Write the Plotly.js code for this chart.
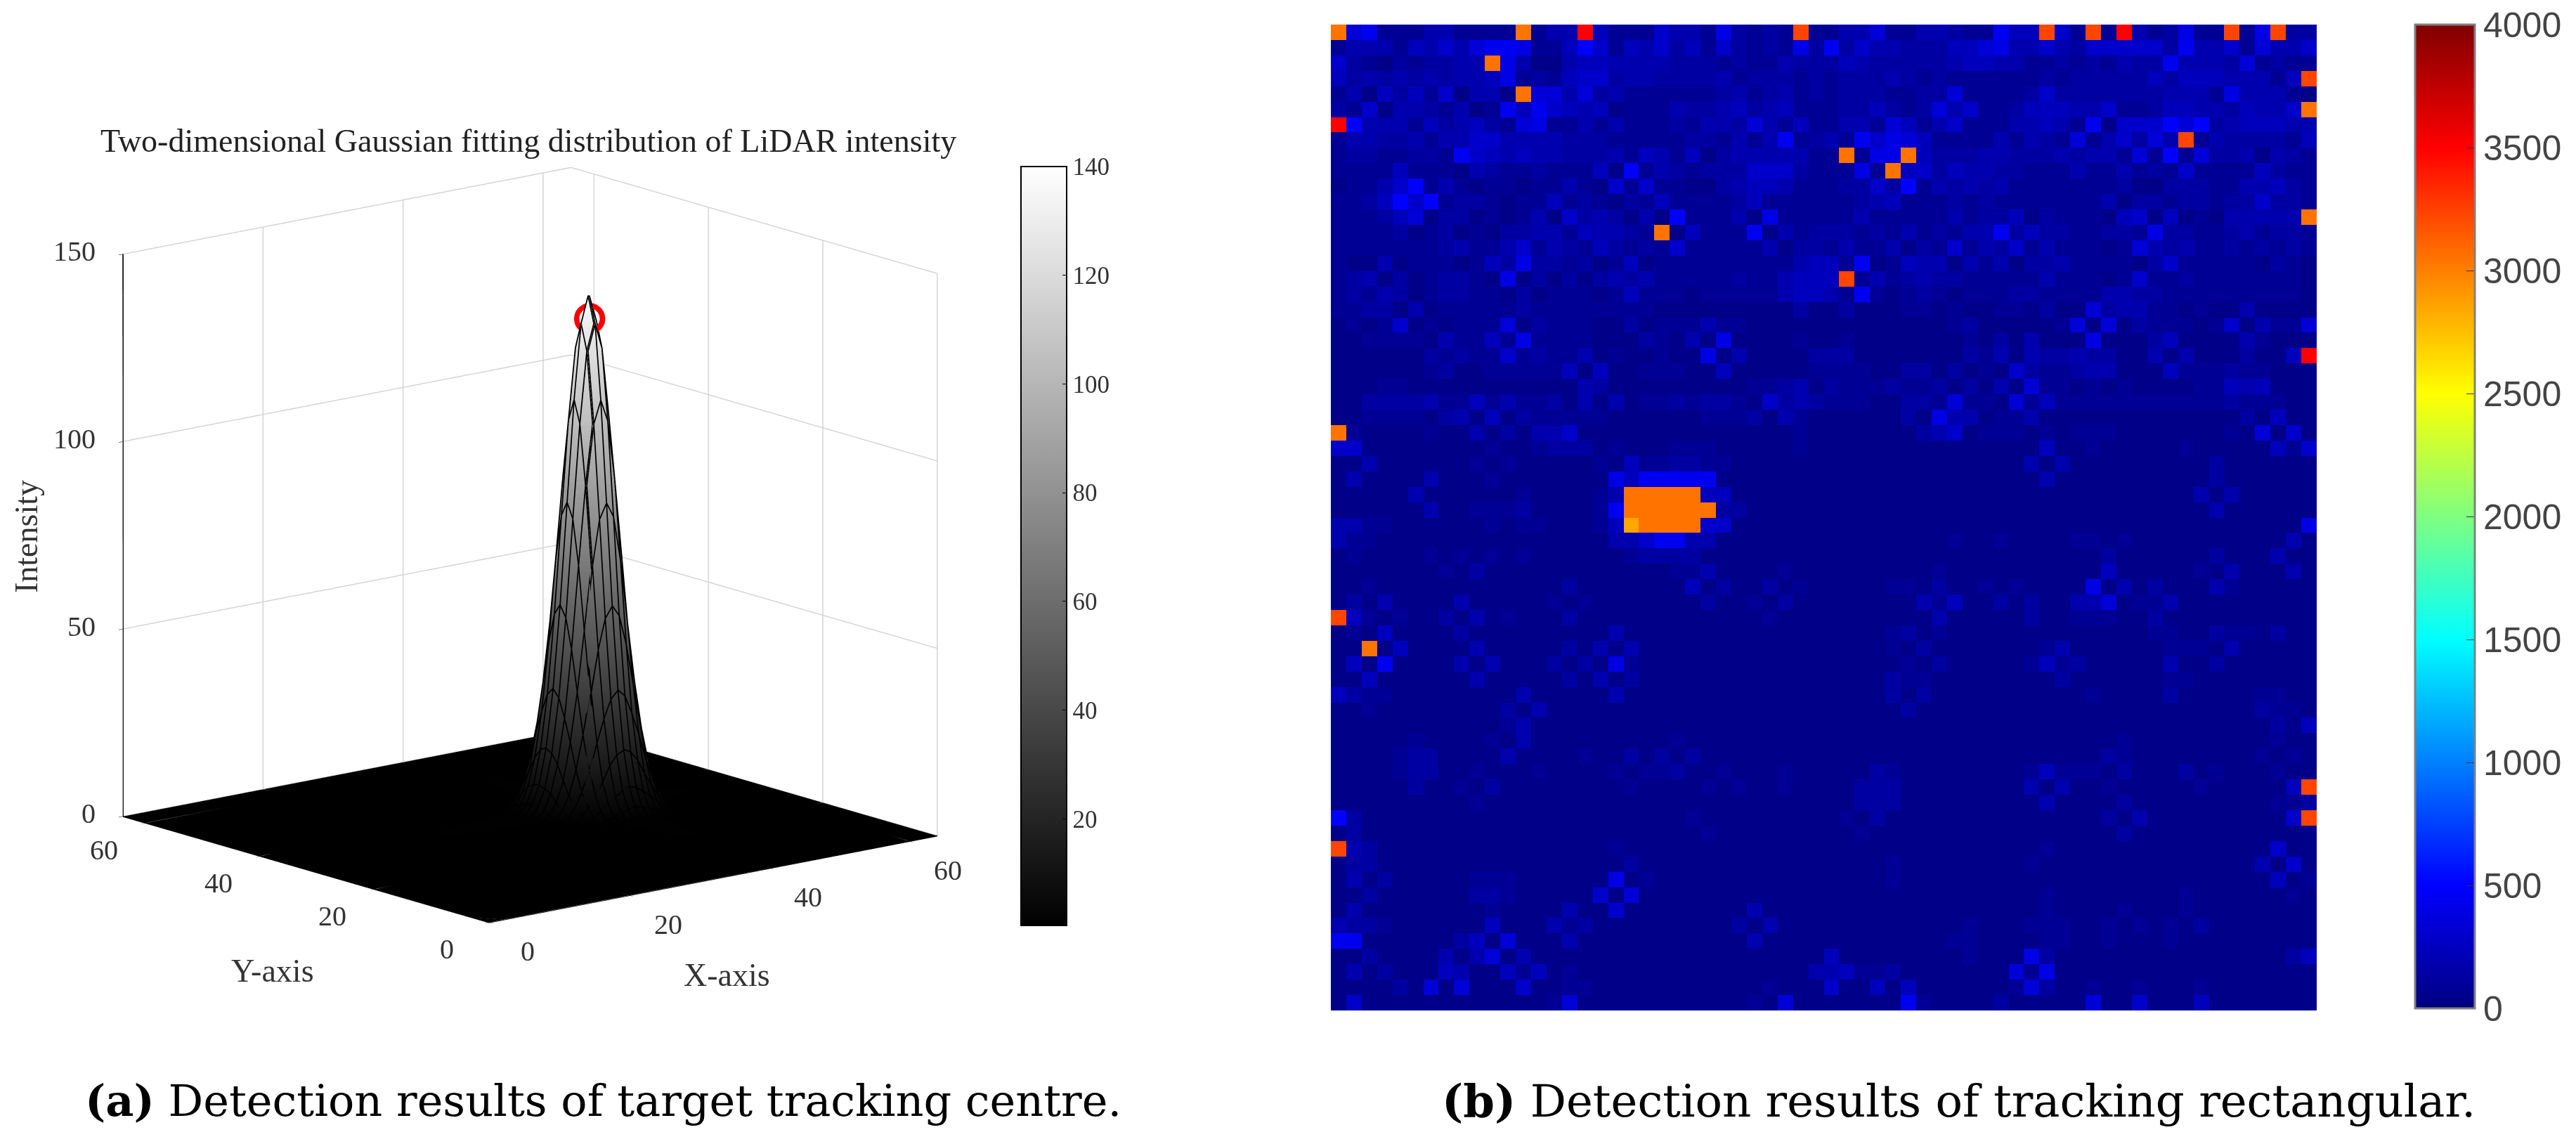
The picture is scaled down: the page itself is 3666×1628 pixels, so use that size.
<!DOCTYPE html>
<html>
<head>
<meta charset="utf-8">
<script src="https://cdn.plot.ly/plotly-3.0.1.min.js"></script>
<style>
  html, body { margin: 0; padding: 0; background: #fff; }
</style>
</head>
<body>
<div id="chart" style="width:3666px;height:1628px"></div>
<script>
// (a) peak of the fitted surface, one quadrant read from the silhouette, rows dy=0..9, cols dx=0..9
var peakQuadrant = [
  [137, 130, 110, 83, 56, 34, 18.5, 9, 4, 1.5],
  [130, 123, 104, 79, 53, 32, 17.5, 8.5, 3.7, 1.5],
  [110, 104, 88, 67, 45, 27, 15, 7.5, 3, 1.2],
  [83, 79, 67, 50, 34, 21, 11, 5.5, 2.4, 0.9],
  [56, 53, 45, 34, 23, 14, 7.5, 3.7, 1.6, 0.6],
  [34, 32, 27, 21, 14, 8.5, 4.5, 2.2, 1, 0.6],
  [18.5, 17.5, 15, 11, 7.5, 4.5, 2.5, 1.2, 0.6, 0.6],
  [9, 8.5, 7, 5.5, 3.7, 2.2, 1.2, 0.6, 0.6, 0.6],
  [4, 3.7, 3, 2.4, 1.6, 1, 0.6, 0.6, 0.6, 0.6],
  [1.5, 1.5, 1.2, 0.9, 0.6, 0.6, 0.6, 0.6, 0.6, 0.6]
];
var surfaceX = [0, 33, 34, 35, 36, 37, 38, 39, 40, 41, 42, 43, 44, 45, 46, 47, 48, 49, 50, 51, 64];
var surfaceY = [0, 25, 26, 27, 28, 29, 30, 31, 32, 33, 34, 35, 36, 37, 38, 39, 40, 41, 42, 43, 64];
var peakMark = { x: 42, y: 34, z: 131 };
var axisTicks = [0, 20, 40, 60];
var zTicks = [0, 50, 100, 150];
var grayTicks = [20, 40, 60, 80, 100, 120, 140];
var jetTicks = [0, 500, 1000, 1500, 2000, 2500, 3000, 3500, 4000];

// (b) intensity image, 64 x 64. 0-9 = background blue levels, y/o/r/R = hot cells
var cellRows = [
  "o6811133 1111o133 R4111533 172121r1 13361133 211844r5 1r1R3127 11r17r22",
  "13331435 36887114 95143524 15212172 82533222 44673353 25555528 33516335",
  "52102122 33o73003 44333322 21211322 24322222 34433112 12132283 33261211",
  "42323232 33471214 55233222 23122212 12223212 11111121 22222424 4433314r",
  "13042415 0330o663 62311111 12312312 12221122 61111252 22222233 31733310",
  "21503321 30184854 34011132 23423411 12242126 35112444 33511244 3324335o",
  "R9333142 34216711 31311121 33263141 13316413 51113343 18055596 92344433",
  "13322313 35533332 22111112 21313812 31857641 11131321 6135263r 13222214",
  "12211221 85434332 22314314 02333331 1o177o42 22332223 23316191 62230321",
  "11114111 03211211 14091321 22255521 1171o452 43322111 31131215 11114211",
  "01135913 10110113 10515110 02344311 12252913 23231111 11120022 21133421",
  "11249591 22101141 21021411 11241111 11234111 21211111 11302212 21225221",
  "11124602 20101305 23203091 11307111 11311111 31224021 11045040 1033333o",
  "11112012 01022331 43321o04 11180312 22121312 13382422 11221722 11231221",
  "11111112 31135132 14212151 11113022 13113021 51325131 11016323 11212121",
  "10030111 01427221 20140111 11111134 41801433 03130223 11110251 11110210",
  "12302012 21070202 02323111 11211344 4r131232 21111131 11015112 11111110",
  "12132012 21102011 10141110 11111344 31810121 01112211 11332211 11111110",
  "11220301 11112111 11111000 00000020 02000110 10011020 06233110 10030000",
  "01015010 11160211 10020111 31100000 00000000 12000001 60602111 01503116",
  "00111103 11417111 10002103 07000010 01000000 01020300 07000240 00031000",
  "00000021 21151211 30100100 70300002 22000000 02130322 32200303 0002004R",
  "00000012 00111114 04001110 04000001 11100220 20105211 23300041 11211000",
  "00011000 00000000 32000000 00011230 21112112 02030611 01010000 11434000",
  "00222231 14131120 30301121 22105232 11100221 61106141 11111111 11211100",
  "00111102 30402111 11000000 11120310 00000207 33011300 00000000 00020400",
  "o1000010 03020335 00000000 00000010 00000023 50111010 11100000 00106050",
  "55000000 00100122 20100011 10000010 00000000 00000040 01000001 00000415",
  "00300000 01010000 01041122 11000000 00000000 00000303 00000000 02000000",
  "03000030 00100000 00748888 80000000 00000000 00000030 00000000 02000000",
  "00000300 00001000 013ooooo 44000000 00000000 00000000 00000000 30300000",
  "00000030 01112000 018ooooo o2200000 00000000 00000000 00000000 03000000",
  "33110000 00101100 014yoooo 55000000 00000000 00000000 00000000 00000007",
  "31100000 00000000 00335883 30000000 00000000 10010000 11010000 00000030",
  "01000010 10101000 00012222 00000000 00000000 00000000 00200000 02000300",
  "00000001 02000000 00000011 30000100 00000001 00000000 00400000 10300030",
  "00100000 00000002 00000004 02002010 00001102 00101000 07030200 03100000",
  "02030000 30000010 10000000 20010200 00000031 40020200 33601130 00000000",
  "r4101002 03010002 00000000 00001000 00000003 00000200 11100200 00000000",
  "01040000 20000000 00300000 00000000 00001201 00000000 00000110 02110200",
  "00o04000 03000002 03030000 00000000 00001020 00000013 00000011 10300000",
  "04080000 30300020 20710000 00000000 00000102 00000141 20000030 02000000",
  "00400000 03000002 03020000 00000000 00002110 00000002 00000011 00000000",
  "42110000 00003000 00300000 00000000 00002020 00000000 01000020 00001100",
  "00100000 00020300 00000000 00000000 00000200 00000000 00000000 00002110",
  "00000000 00013000 00000000 00000000 00000000 00000000 00000000 00000204",
  "00000100 00103000 00000010 00000000 00000000 00000000 00010000 00000100",
  "00001220 00030000 10020202 00000000 00000000 00000000 00210000 00001010",
  "00001220 01000100 00101120 01000100 00021000 00000141 11020002 01000100",
  "00000200 10200000 00010000 10100100 00222000 00000303 00100000 1000004r",
  "00000000 01000000 00000000 00000000 00222000 00000030 00020000 00000112",
  "92000000 00000000 00000001 00000000 01020000 00000000 00203000 0000005r",
  "02000000 00000000 00000000 10000000 00100000 00000000 00020000 00000000",
  "r3200000 00000000 00100000 00000000 00000000 00000010 00000000 00000500",
  "02200000 00000000 00020000 00000000 00001000 00000100 00000000 00003050",
  "03020000 01110000 00701000 00000000 00001000 00000000 00000000 00000401",
  "00200000 02210000 05060000 00000000 00000000 00000010 00000001 00000010",
  "03000000 00100003 00500000 00030000 00000000 00000010 00010001 00000000",
  "32210000 00400031 20000000 00203000 00000000 01000111 00101010 20000000",
  "88000000 24060003 00000000 00030000 00000000 11000011 00100010 00000000",
  "00200003 03603000 00000000 00000000 40000000 01000720 00000000 00000024",
  "03020004 30041401 00000000 00000003 34112000 00006170 00000000 00000000",
  "00002060 60005001 10000000 00001000 50040400 00001620 01001000 10000000",
  "05000000 00000016 00000000 00010600 00000810 00020000 06005000 40000000"
];
var hotValues = { y: 2850, o: 3050, r: 3230, R: 3500 };

var W = 3666, H = 1628;

// build the two z tables
function mirror(list) {
  var out = [];
  for (var i = list.length - 1; i > 0; i--) out.push(list[i]);
  return out.concat(list);
}
var surfaceZ = [];
var flatRow = [];
for (var i = 0; i < surfaceX.length; i++) flatRow.push(0);
surfaceZ.push(flatRow);
mirror(peakQuadrant).forEach(function (row) {
  surfaceZ.push([0].concat(mirror(row)).concat([0]));
});
surfaceZ.push(flatRow);

var imageZ = cellRows.map(function (row) {
  return row.replace(/ /g, "").split("").map(function (c) {
    if (hotValues[c] !== undefined) return hotValues[c];
    return 30 + 52 * Number(c);
  });
});

// black mesh over the peak, one polyline per grid row and column
var meshX = [], meshY = [], meshZ = [];
for (var r = 1; r < surfaceY.length - 1; r++) {
  for (var c = 1; c < surfaceX.length - 1; c++) {
    meshX.push(surfaceX[c]); meshY.push(surfaceY[r]); meshZ.push(surfaceZ[r][c]);
  }
  meshX.push(null); meshY.push(null); meshZ.push(null);
}
for (var c2 = 1; c2 < surfaceX.length - 1; c2++) {
  for (var r2 = 1; r2 < surfaceY.length - 1; r2++) {
    meshX.push(surfaceX[c2]); meshY.push(surfaceY[r2]); meshZ.push(surfaceZ[r2][c2]);
  }
  meshX.push(null); meshY.push(null); meshZ.push(null);
}

var data = [
  {
    type: "surface",
    x: surfaceX,
    y: surfaceY,
    z: surfaceZ,
    cmin: 0.4,
    cmax: 140,
    colorscale: [[0, "#000000"], [1, "#ffffff"]],
    lighting: { ambient: 1, diffuse: 0, specular: 0, roughness: 1, fresnel: 0 },
    colorbar: {
      x: 1453 / W, xanchor: "left", xpad: 0,
      y: 1 - 1317 / H, yanchor: "bottom", ypad: 0,
      len: 1080 / H, lenmode: "fraction",
      thickness: 65,
      outlinecolor: "#000", outlinewidth: 2,
      tickvals: grayTicks,
      ticks: "inside", ticklen: 7, tickcolor: "#000",
      tickfont: { family: "Liberation Serif", size: 35, color: "#333" }
    }
  },
  {
    type: "scatter3d",
    mode: "lines",
    x: meshX,
    y: meshY,
    z: meshZ,
    connectgaps: false,
    line: { color: "#000", width: 7 },
    showlegend: false
  },
  {
    type: "heatmap",
    z: imageZ,
    xaxis: "x",
    yaxis: "y",
    zmin: 0,
    zmax: 4000,
    colorscale: [
      [0, "#000080"], [0.125, "#0000ff"], [0.375, "#00ffff"],
      [0.625, "#ffff00"], [0.875, "#ff0000"], [1, "#800000"]
    ],
    colorbar: {
      x: 3437 / W, xanchor: "left", xpad: 0,
      y: 1 - 1435 / H, yanchor: "bottom", ypad: 0,
      len: 1400 / H, lenmode: "fraction",
      thickness: 85,
      outlinecolor: "#808080", outlinewidth: 3,
      tickvals: jetTicks,
      ticks: "inside", ticklen: 13, tickcolor: "#333",
      tickfont: { family: "Liberation Sans", size: 50, color: "#444" }
    }
  }
];

// nested rings, a single open marker draws too thin
[21, 23, 25].forEach(function (ringSize) {
  data.push({
    type: "scatter3d",
    mode: "markers",
    x: [peakMark.x],
    y: [peakMark.y],
    z: [peakMark.z],
    marker: { symbol: "circle-open", size: ringSize, color: "#ff0000", line: { color: "#ff0000", width: 9 } },
    showlegend: false
  });
});

var axisStyle = {
  range: [0, 64],
  tickvals: axisTicks,
  showticklabels: false,
  showgrid: true,
  gridcolor: "#d4d4d4",
  gridwidth: 3,
  zeroline: false,
  showline: true,
  linecolor: "#000",
  linewidth: 4,
  ticks: "outside",
  tickcolor: "#000",
  ticklen: 8,
  showbackground: false,
  showspikes: false
};

var tickFont = { family: "Liberation Serif", size: 40, color: "#333" };
var labelFont = { family: "Liberation Serif", size: 46, color: "#333" };

// upright tick labels, pinned to the axes in data coordinates
var sceneLabels = [];
axisTicks.forEach(function (v) {
  sceneLabels.push({ x: v, y: 0, z: 0, text: String(v), showarrow: false, xshift: 55, yshift: -41, font: tickFont });
  sceneLabels.push({ x: 0, y: v, z: 0, text: String(v), showarrow: false, xshift: -60, yshift: -38, font: tickFont });
});
zTicks.forEach(function (v) {
  sceneLabels.push({ x: 0, y: 64, z: v, text: String(v), showarrow: false, xanchor: "right", xshift: -37, yshift: 4, font: tickFont });
});

var layout = {
  width: W,
  height: H,
  autosize: false,
  margin: { l: 0, r: 0, t: 0, b: 0 },
  paper_bgcolor: "#fff",
  plot_bgcolor: "#fff",
  showlegend: false,
  xaxis: { domain: [1894 / W, 3297 / W], visible: false, range: [-0.5, 63.5], constrain: "domain" },
  yaxis: { domain: [1 - 1438 / H, 1 - 35 / H], visible: false, range: [63.5, -0.5] },
  scene: {
    domain: { x: [104 / W, 1405 / W], y: [1 - 1426 / H, 1 - 125 / H] },
    aspectmode: "manual",
    aspectratio: { x: 1.266, y: 1.266, z: 1.266 },
    bgcolor: "#fff",
    camera: {
      projection: { type: "orthographic" },
      center: { x: 0, y: 0, z: 0 },
      up: { x: 0, y: 0, z: 1 },
      eye: { x: -0.9696, y: -1.1864, z: 0.3731 }
    },
    xaxis: Object.assign({}, axisStyle, { title: { text: "" } }),
    yaxis: Object.assign({}, axisStyle, { title: { text: "" } }),
    zaxis: Object.assign({}, axisStyle, { range: [0, 150], tickvals: zTicks, title: { text: "" } }),
    annotations: sceneLabels
  },
  annotations: [
    {
      xref: "paper", yref: "paper", x: 752 / W, y: 1 - 201 / H, xanchor: "center", yanchor: "middle",
      showarrow: false, text: "Two-dimensional Gaussian fitting distribution of LiDAR intensity",
      font: { family: "Liberation Serif", size: 46, color: "#222" }
    },
    {
      xref: "paper", yref: "paper", x: 1034 / W, y: 1 - 1387 / H, xanchor: "center", yanchor: "middle",
      showarrow: false, text: "X-axis", font: labelFont
    },
    {
      xref: "paper", yref: "paper", x: 388 / W, y: 1 - 1381 / H, xanchor: "center", yanchor: "middle",
      showarrow: false, text: "Y-axis", font: labelFont
    },
    {
      xref: "paper", yref: "paper", x: 37 / W, y: 1 - 764 / H, xanchor: "center", yanchor: "middle",
      showarrow: false, text: "Intensity", textangle: -90, font: labelFont
    },
    {
      xref: "paper", yref: "paper", x: 119 / W, y: 1 - 1566 / H, xanchor: "left", yanchor: "middle",
      showarrow: false, text: "<b>(a)</b> Detection results of target tracking centre.",
      font: { family: "DejaVu Serif", size: 62, color: "#000" }
    },
    {
      xref: "paper", yref: "paper", x: 2050 / W, y: 1 - 1566 / H, xanchor: "left", yanchor: "middle",
      showarrow: false, text: "<b>(b)</b> Detection results of tracking rectangular.",
      font: { family: "DejaVu Serif", size: 64, color: "#000" }
    }
  ]
};

Plotly.newPlot("chart", data, layout, { displayModeBar: false, responsive: false });
</script>
</body>
</html>
